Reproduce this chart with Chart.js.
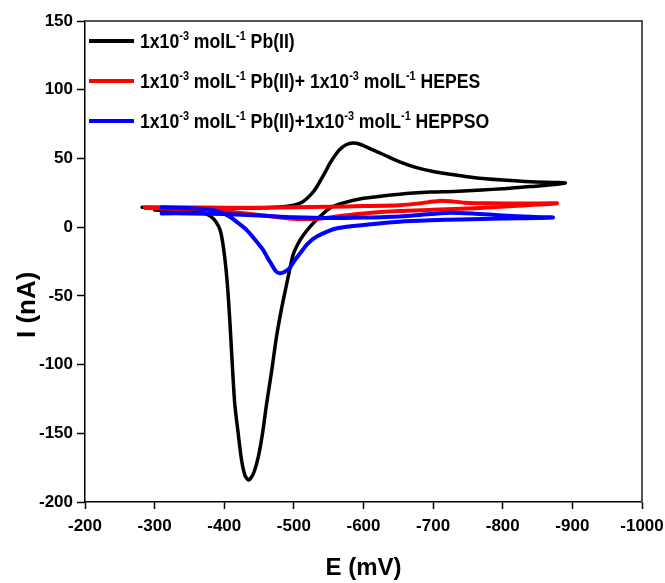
<!DOCTYPE html>
<html>
<head>
<meta charset="utf-8">
<script src="https://cdn.jsdelivr.net/npm/chart.js@4/dist/chart.umd.min.js"></script>
<style>
  html, body { margin: 0; padding: 0; background: #fff; }
  #wrap { position: relative; width: 665px; height: 583px; }
  #legend { position: absolute; left: 89px; top: 0; font-family: "Liberation Sans", Arial, sans-serif; font-weight: bold; font-size: 21px; color: #000; }
  .row { position: absolute; left: 0; white-space: nowrap; display: flex; align-items: center; height: 26px; }
  .swatch { display: inline-block; width: 45px; height: 4px; margin-right: 6px; flex: none; }
  .txt { display: inline-block; transform: scaleX(0.84); transform-origin: 0 50%; }
  sup { font-size: 13px; vertical-align: 8px; line-height: 0; }
</style>
</head>
<body>
<div id="wrap">
  <canvas id="c" width="665" height="583"></canvas>
  <div id="legend"></div>
</div>
<script>
// ---- data (E in mV, I in nA) ----
const seriesNames = [
  '1x10<sup>-3</sup> molL<sup>-1</sup> Pb(II)',
  '1x10<sup>-3</sup> molL<sup>-1</sup> Pb(II)+ 1x10<sup>-3</sup> molL<sup>-1</sup> HEPES',
  '1x10<sup>-3</sup> molL<sup>-1</sup> Pb(II)+1x10<sup>-3</sup> molL<sup>-1</sup> HEPPSO'
];
const seriesColors = ['#000000', '#ff0000', '#0000ff'];

const xTicks = [-200, -300, -400, -500, -600, -700, -800, -900, -1000];
const yTicks = [150, 100, 50, 0, -50, -100, -150, -200];

const pbE = [-282,-300,-350,-400,-450,-480,-500,-513,-525,-533,-545,-552,-565,-575,-585,-595,-610,-630,-652,-675,-700,-725,-760,-800,-840,-890,
             -840,-800,-770,-730,-696,-652,-600,-570,-552,-535,-523,-512,-505,-499,-494,-489,-482,-475,-468,-461,-455,-449,-443,-439,-435,-430,-425,-420,-415,-411,-408,-405,-402,-398,-394,-388,-380,-370,-350,-320,-300];
const pbI = [14.4,14.3,14.0,13.8,14.0,14.6,16,18.5,24,29.4,40,46.7,56,60,61.2,60.3,57,52.5,47.5,43.5,40.5,38.5,36,34.3,33,32.1,
             29.5,28,27,26,25.5,24,21,17.5,13.9,6.5,0.2,-7,-13,-20,-31,-43,-60,-80,-105,-128,-150,-167,-178,-182,-184,-181,-170,-150,-128,-95,-68,-45,-28,-12,-2,4,8,10.5,11.8,12.3,12.4];

const hepesE = [-286,-350,-400,-450,-500,-550,-600,-652,-680,-700,-712,-725,-745,-780,-830,-878,
                -820,-760,-700,-652,-600,-570,-552,-530,-504,-480,-456,-420,-384,-350,-300,-286];
const hepesI = [14.4,14.3,14.2,14.2,14.4,14.8,15.3,16,17.3,18.6,19.2,18.8,17.8,17.3,17.2,17.3,
                15.5,13.8,12.6,11.7,10,8.3,7,6,6,7,8.5,10.5,12.4,13.3,13.8,14];

const heppsoE = [-310,-350,-400,-450,-500,-552,-600,-652,-696,-725,-760,-800,-840,-872,
                 -800,-740,-696,-652,-600,-562,-533,-520,-509,-500,-494,-487,-480,-474,-470,-463,-456,-444,-432,-420,-408,-396,-384,-350,-310];
const heppsoI = [10,10,9.5,8.5,7.2,6.6,7,7.8,9.5,10.5,9.8,8.5,7.5,7,
                 6.2,5.6,5,4,1.6,-0.8,-6.8,-12,-19,-25,-29.7,-32.5,-33.6,-32,-28.8,-23,-16.7,-9,-2,3,7.6,10.5,12.4,14,14.4];

function pts(xs, ys) { return xs.map((x, i) => ({ x: x, y: ys[i] })); }

const FONT = '"Liberation Sans", Arial, sans-serif';

const frame = {
  id: 'frame',
  afterDraw(chart) {
    const a = chart.chartArea, ctx = chart.ctx;
    ctx.save();
    ctx.strokeStyle = '#555';
    ctx.lineWidth = 2;
    ctx.beginPath();
    ctx.moveTo(a.left, a.top); ctx.lineTo(a.right, a.top); ctx.lineTo(a.right, a.bottom);
    ctx.stroke();
    ctx.restore();
  }
};

new Chart(document.getElementById('c'), {
  type: 'scatter',
  data: {
    datasets: [
      { label: 'Pb(II)', data: pts(pbE, pbI), borderColor: seriesColors[0], borderWidth: 3.5, order: 3 },
      { label: 'HEPES', data: pts(hepesE, hepesI), borderColor: seriesColors[1], borderWidth: 4, order: 2 },
      { label: 'HEPPSO', data: pts(heppsoE, heppsoI), borderColor: seriesColors[2], borderWidth: 4, order: 1 }
    ].map(d => Object.assign(d, { showLine: true, pointRadius: 0, tension: 0.25, fill: false, borderCapStyle: 'round', borderJoinStyle: 'round' }))
  },
  options: {
    responsive: false,
    animation: false,
    layout: { padding: { top: 21, right: 23, left: 0, bottom: 0 } },
    plugins: { legend: { display: false }, tooltip: { enabled: false } },
    scales: {
      x: {
        type: 'linear', reverse: true, min: -1000, max: -200,
        afterBuildTicks: s => { s.ticks = xTicks.map(v => ({ value: v })); },
        afterFit: s => { s.height = 81; s.paddingLeft = 0; s.paddingRight = 0; },
        border: { display: true, color: '#000', width: 1.5 },
        grid: { drawOnChartArea: false, color: '#000', tickLength: 7, tickWidth: 1.5 },
        ticks: { color: '#000', font: { family: FONT, size: 17, weight: 'bold' }, padding: 7, maxRotation: 0, callback: v => String(v) },
        title: { display: true, text: 'E (mV)', color: '#000', font: { family: FONT, size: 24, weight: 'bold' }, padding: { top: 0, bottom: 0 } }
      },
      y: {
        type: 'linear', min: -200, max: 150,
        afterBuildTicks: s => { s.ticks = yTicks.map(v => ({ value: v })); },
        afterFit: s => { s.width = 85; s.paddingTop = 0; s.paddingBottom = 0; },
        border: { display: true, color: '#000', width: 1.5 },
        grid: { drawOnChartArea: false, color: '#000', tickLength: 8, tickWidth: 1.5 },
        ticks: { color: '#000', font: { family: FONT, size: 17, weight: 'bold' }, padding: 4, callback: v => String(v) },
        title: { display: true, text: 'I (nA)' + '\u00a0'.repeat(12), color: '#000', font: { family: FONT, size: 26, weight: 'bold' }, padding: { top: 12, bottom: 0 } }
      }
    }
  },
  plugins: [frame]
});

// HTML legend with superscripts
const lg = document.getElementById('legend');
const rowY = [41, 81, 121];
seriesNames.forEach((n, i) => {
  const r = document.createElement('div');
  r.className = 'row';
  r.style.top = (rowY[i] - 13) + 'px';
  r.innerHTML = '<span class="swatch" style="background:' + seriesColors[i] + '"></span><span class="txt">' + n + '</span>';
  lg.appendChild(r);
});
</script>
</body>
</html>
